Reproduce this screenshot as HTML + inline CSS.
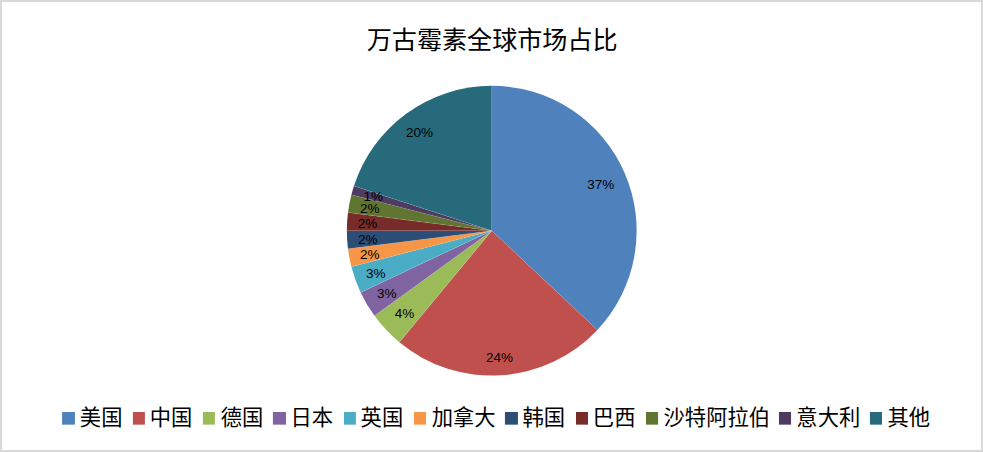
<!DOCTYPE html>
<html lang="zh-CN">
<head>
<meta charset="utf-8">
<title>万古霉素全球市场占比</title>
<style>
html,body{margin:0;padding:0;background:#fff;}
body{width:983px;height:452px;overflow:hidden;font-family:"Liberation Sans",sans-serif;}
#chart{position:relative;width:983px;height:452px;box-sizing:border-box;border:2px solid #d9d9d9;background:#fff;}
#chart svg{position:absolute;left:-2px;top:-2px;display:block;}
.sr{position:absolute;left:0;top:0;width:1px;height:1px;margin:0;padding:0;overflow:hidden;clip:rect(0 0 0 0);clip-path:inset(50%);opacity:0;white-space:nowrap;}
</style>
</head>
<body>
<div id="chart">
<svg width="983" height="452" viewBox="0 0 983 452"><g class="pie"><path d="M491.75 230.70L491.75 85.80A144.90 144.90 0 0 1 597.38 329.89Z" fill="#4F81BD"/><path d="M491.75 230.70L597.38 329.89A144.90 144.90 0 0 1 399.39 342.35Z" fill="#C0504D"/><path d="M491.75 230.70L399.39 342.35A144.90 144.90 0 0 1 374.52 315.87Z" fill="#9BBB59"/><path d="M491.75 230.70L374.52 315.87A144.90 144.90 0 0 1 360.64 292.40Z" fill="#8064A2"/><path d="M491.75 230.70L360.64 292.40A144.90 144.90 0 0 1 351.40 266.74Z" fill="#4BACC6"/><path d="M491.75 230.70L351.40 266.74A144.90 144.90 0 0 1 347.99 248.86Z" fill="#F79646"/><path d="M491.75 230.70L347.99 248.86A144.90 144.90 0 0 1 346.85 230.70Z" fill="#2C4D75"/><path d="M491.75 230.70L346.85 230.70A144.90 144.90 0 0 1 347.99 212.54Z" fill="#772C2A"/><path d="M491.75 230.70L347.99 212.54A144.90 144.90 0 0 1 351.40 194.66Z" fill="#5F7530"/><path d="M491.75 230.70L351.40 194.66A144.90 144.90 0 0 1 353.94 185.92Z" fill="#4D3B62"/><path d="M491.75 230.70L353.94 185.92A144.90 144.90 0 0 1 491.75 85.80Z" fill="#276A7C"/><line x1="491.75" y1="230.70" x2="491.75" y2="85.80" stroke="#fff" stroke-opacity="0.18" stroke-width="0.6"/><line x1="491.75" y1="230.70" x2="597.38" y2="329.89" stroke="#fff" stroke-opacity="0.18" stroke-width="0.6"/><line x1="491.75" y1="230.70" x2="399.39" y2="342.35" stroke="#fff" stroke-opacity="0.18" stroke-width="0.6"/><line x1="491.75" y1="230.70" x2="374.52" y2="315.87" stroke="#fff" stroke-opacity="0.18" stroke-width="0.6"/><line x1="491.75" y1="230.70" x2="360.64" y2="292.40" stroke="#fff" stroke-opacity="0.18" stroke-width="0.6"/><line x1="491.75" y1="230.70" x2="351.40" y2="266.74" stroke="#fff" stroke-opacity="0.18" stroke-width="0.6"/><line x1="491.75" y1="230.70" x2="347.99" y2="248.86" stroke="#fff" stroke-opacity="0.18" stroke-width="0.6"/><line x1="491.75" y1="230.70" x2="346.85" y2="230.70" stroke="#fff" stroke-opacity="0.18" stroke-width="0.6"/><line x1="491.75" y1="230.70" x2="347.99" y2="212.54" stroke="#fff" stroke-opacity="0.18" stroke-width="0.6"/><line x1="491.75" y1="230.70" x2="351.40" y2="194.66" stroke="#fff" stroke-opacity="0.18" stroke-width="0.6"/><line x1="491.75" y1="230.70" x2="353.94" y2="185.92" stroke="#fff" stroke-opacity="0.18" stroke-width="0.6"/></g><g class="labels" fill="#000" font-family="&quot;Liberation Sans&quot;, sans-serif" font-size="13.5"><text x="587.16" y="188.85">37%</text><text x="485.96" y="362.15">24%</text><text x="394.80" y="318.45">4%</text><text x="376.90" y="298.25">3%</text><text x="366.10" y="278.05">3%</text><text x="360.10" y="259.25">2%</text><text x="358.10" y="244.25">2%</text><text x="357.70" y="227.75">2%</text><text x="360.10" y="212.85">2%</text><text x="363.40" y="200.75">1%</text><text x="405.96" y="137.15">20%</text></g><text x="366.70" y="48.80" font-size="25.1" fill="#000" font-family="&quot;Liberation Sans&quot;, &quot;Noto Sans CJK SC&quot;, sans-serif">万古霉素全球市场占比</text><g font-size="21.3" fill="#000" font-family="&quot;Liberation Sans&quot;, &quot;Noto Sans CJK SC&quot;, sans-serif"><rect x="62.08" y="412.00" width="12.85" height="12.65" fill="#4F81BD"/><text x="79.84" y="425.10">美国</text><rect x="132.90" y="412.00" width="12.0" height="12.65" fill="#C0504D"/><text x="149.73" y="425.10">中国</text><rect x="202.90" y="412.00" width="12.0" height="12.65" fill="#9BBB59"/><text x="220.63" y="425.10">德国</text><rect x="272.90" y="412.00" width="13.1" height="12.65" fill="#8064A2"/><text x="290.38" y="425.10">日本</text><rect x="343.95" y="412.00" width="11.95" height="12.65" fill="#4BACC6"/><text x="360.62" y="425.10">英国</text><rect x="413.95" y="412.00" width="12.1" height="12.65" fill="#F79646"/><text x="431.70" y="425.10">加拿大</text><rect x="504.93" y="412.00" width="13.0" height="12.65" fill="#2C4D75"/><text x="522.57" y="425.10">韩国</text><rect x="575.98" y="412.00" width="12.0" height="12.65" fill="#772C2A"/><text x="592.83" y="425.10">巴西</text><rect x="645.97" y="412.00" width="12.1" height="12.65" fill="#5F7530"/><text x="663.56" y="425.10">沙特阿拉伯</text><rect x="778.95" y="412.00" width="12.1" height="12.65" fill="#4D3B62"/><text x="796.37" y="425.10">意大利</text><rect x="869.93" y="412.00" width="12.04" height="12.65" fill="#276A7C"/><text x="887.53" y="425.10">其他</text></g></svg>
<div class="sr">
<h1>万古霉素全球市场占比</h1>
<table>
<tr><th>美国</th><td>37%</td></tr><tr><th>中国</th><td>24%</td></tr><tr><th>德国</th><td>4%</td></tr><tr><th>日本</th><td>3%</td></tr><tr><th>英国</th><td>3%</td></tr><tr><th>加拿大</th><td>2%</td></tr><tr><th>韩国</th><td>2%</td></tr><tr><th>巴西</th><td>2%</td></tr><tr><th>沙特阿拉伯</th><td>2%</td></tr><tr><th>意大利</th><td>1%</td></tr><tr><th>其他</th><td>20%</td></tr>
</table>
</div>
</div>
</body>
</html>
